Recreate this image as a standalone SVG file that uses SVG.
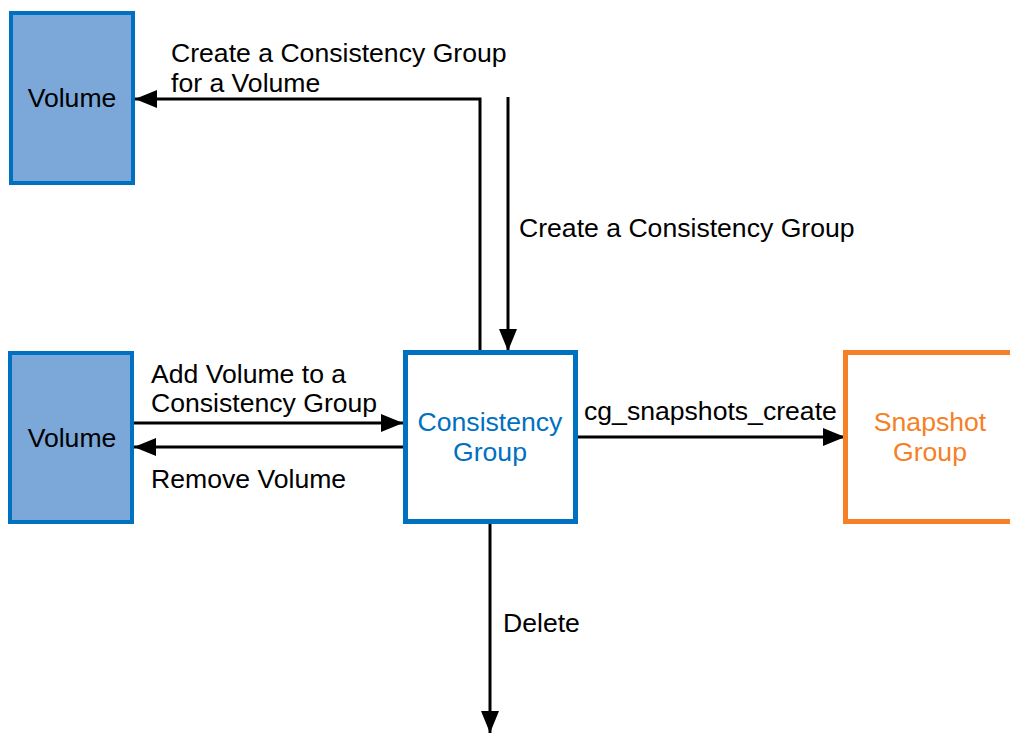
<svg xmlns="http://www.w3.org/2000/svg" width="1010" height="735" viewBox="0 0 1010 735">
<style>
.t{font-family:"Liberation Sans",Arial,sans-serif;font-size:26.6px;fill:#000}
.vol{fill:#7BA7D9;stroke:#0070C0;stroke-width:4}
.cg{fill:#fff;stroke:#0070C0;stroke-width:5}
.sg{fill:#fff;stroke:#F58025;stroke-width:5}
.c{fill:none;stroke:#000;stroke-width:3}
</style>
<defs>
<marker id="arr" markerUnits="userSpaceOnUse" markerWidth="24" markerHeight="18" refX="22" refY="9" orient="auto">
<path d="M0,0 L22,9 L0,18 Z" fill="#000"/>
</marker>
</defs>
<rect width="1010" height="735" fill="#fff"/>
<g id="connectors">
<path class="c" d="M480,350 V99 H135" marker-end="url(#arr)"/>
<path class="c" d="M508,97 V351" marker-end="url(#arr)"/>
<path class="c" d="M134,423 H403" marker-end="url(#arr)"/>
<path class="c" d="M403,447 H134" marker-end="url(#arr)"/>
<path class="c" d="M578,437 H845" marker-end="url(#arr)"/>
<path class="c" d="M490,524 V733" marker-end="url(#arr)"/>
<text class="t" x="171" y="62">Create a Consistency Group</text>
<text class="t" x="171" y="92">for a Volume</text>
<text class="t" x="519" y="237">Create a Consistency Group</text>
<text class="t" x="151" y="383">Add Volume to a</text>
<text class="t" x="151" y="412">Consistency Group</text>
<text class="t" x="151" y="488">Remove Volume</text>
<text class="t" x="584" y="420">cg_snapshots_create</text>
<text class="t" x="503" y="632">Delete</text>
</g>
<g id="volume1">
<rect class="vol" x="11" y="13" width="122" height="170"/>
<text class="t" x="72" y="107" text-anchor="middle">Volume</text>
</g>
<g id="volume2">
<rect class="vol" x="10" y="353" width="122" height="169"/>
<text class="t" x="72" y="447" text-anchor="middle">Volume</text>
</g>
<g id="consistency-group">
<rect class="cg" x="405.5" y="352.5" width="170" height="169"/>
<text class="t" x="490" y="431" text-anchor="middle" style="fill:#0070C0">Consistency</text>
<text class="t" x="490" y="461" text-anchor="middle" style="fill:#0070C0">Group</text>
</g>
<g id="snapshot-group">
<rect class="sg" x="845.5" y="352.5" width="175" height="169"/>
<text class="t" x="930" y="431" text-anchor="middle" style="fill:#F58025">Snapshot</text>
<text class="t" x="930" y="461" text-anchor="middle" style="fill:#F58025">Group</text>
</g>
</svg>
